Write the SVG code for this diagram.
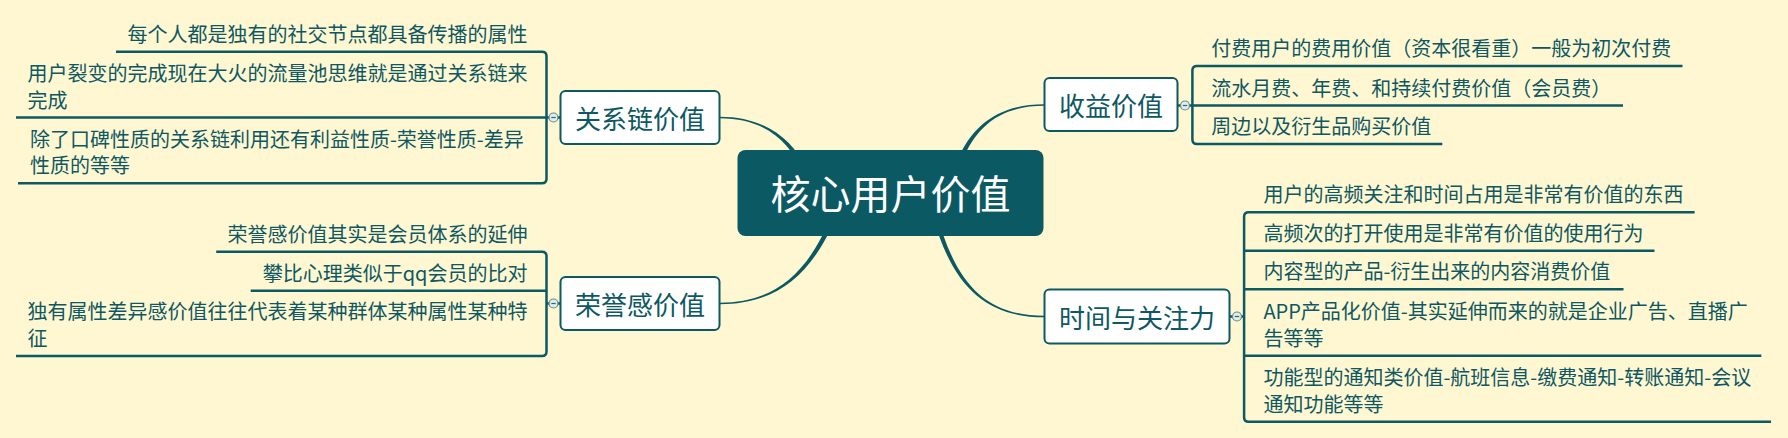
<svg xmlns="http://www.w3.org/2000/svg" width="1788" height="438" viewBox="0 0 1788 438">
<defs>
<style>
.bg{fill:#fef7d2}
.ln{fill:none;stroke:#0b5963;stroke-width:2.5;stroke-linecap:butt}
.curve{fill:#0b5963;stroke:none}
.box{fill:#ffffff;stroke:#0b5963;stroke-width:2}
.center{fill:#0b5963}
.t20{font-family:"Noto Sans CJK SC","Microsoft YaHei",sans-serif;font-size:20px;fill:#0d5862}
.t26{font-family:"Noto Sans CJK SC","Microsoft YaHei",sans-serif;font-size:26px;fill:#0d5862;text-anchor:middle}
.t40{font-family:"Noto Sans CJK SC","Microsoft YaHei",sans-serif;font-size:40px;fill:#ffffff;text-anchor:middle}
.end{text-anchor:end}
.fold circle{fill:#e2ebe4;stroke:#5f8d93;stroke-width:1.2}
.fold line{stroke:#2f6a71;stroke-width:1.2}
</style>
</defs>
<rect class="bg" x="0" y="0" width="1788" height="438"/>

<g id="connectors">
  <!-- tapered main curves -->
  <path class="curve" d="M719.5 118.3 C765 118.3 788 141 803 171 L807 169 C792 139 765 116.7 719.5 116.7 Z"/>
  <path class="curve" d="M720 304.3 C770 304.3 807 280.9 832 225.9 L828 224.1 C803 279.1 770 302.7 720 302.7 Z"/>
  <path class="curve" d="M1044.5 104.2 C1000 104.2 973 124.1 958 159.1 L962 160.9 C977 125.9 1000 105.8 1044.5 105.8 Z"/>
  <path class="curve" d="M1044.5 315.7 C990 315.7 957.1 289.4 937.1 214.4 L932.9 215.6 C952.9 290.6 990 317.3 1044.5 317.3 Z"/>

  <!-- left A bracket -->
  <path class="ln" d="M116 51.7 H542 Q546.5 51.7 546.5 56.2 V178.8 Q546.5 183.3 542 183.3 H18"/>
  <path class="ln" d="M16 117.5 H560.5"/>
  <!-- left B bracket -->
  <path class="ln" d="M216.2 251.7 H542 Q546.5 251.7 546.5 256.2 V351.5 Q546.5 356 542 356 H16"/>
  <path class="ln" d="M250.7 290.7 H546.5"/>
  <path class="ln" d="M546.5 303.5 H560.5"/>
  <!-- right A bracket -->
  <path class="ln" d="M1682.5 66 H1196.9 Q1192.4 66 1192.4 70.5 V139.5 Q1192.4 144 1196.9 144 H1442.3"/>
  <path class="ln" d="M1177.4 105.5 H1623"/>
  <!-- right B bracket -->
  <path class="ln" d="M1694.6 212.3 H1248.6 Q1244.1 212.3 1244.1 216.8 V417.2 Q1244.1 421.7 1248.6 421.7 H1771"/>
  <path class="ln" d="M1244.1 250.7 H1654.5"/>
  <path class="ln" d="M1244.1 289.3 H1623.5"/>
  <path class="ln" d="M1244.1 355.7 H1761.3"/>
  <path class="ln" d="M1229.5 316.5 H1244.1"/>

  <g class="fold">
    <circle cx="553.5" cy="117.5" r="4.5"/><line x1="551.3" y1="117.5" x2="555.7" y2="117.5"/>
    <circle cx="553.5" cy="303.5" r="4.5"/><line x1="551.3" y1="303.5" x2="555.7" y2="303.5"/>
    <circle cx="1185" cy="105.5" r="4.5"/><line x1="1182.8" y1="105.5" x2="1187.2" y2="105.5"/>
    <circle cx="1237" cy="316.5" r="4.5"/><line x1="1234.8" y1="316.5" x2="1239.2" y2="316.5"/>
  </g>
</g>

<g id="node-center">
  <rect class="center" x="737.5" y="150" width="306" height="86" rx="8"/>
  <text class="t40" x="890.6" y="208.7">核心用户价值</text>
</g>

<g id="node-guanxilian">
  <rect class="box" x="560.5" y="91" width="159" height="53" rx="5"/>
  <text class="t26" x="640" y="129">关系链价值</text>
</g>
<g id="node-rongyugan">
  <rect class="box" x="560.5" y="277" width="159" height="53" rx="5"/>
  <text class="t26" x="640" y="314.8">荣誉感价值</text>
</g>
<g id="node-shouyi">
  <rect class="box" x="1044.5" y="78" width="133" height="53" rx="5"/>
  <text class="t26" x="1111" y="115.5">收益价值</text>
</g>
<g id="node-shijian">
  <rect class="box" x="1044.5" y="289.5" width="185" height="54" rx="5"/>
  <text class="t26" x="1137" y="327.5">时间与关注力</text>
</g>

<g id="node-a1"><text class="t20 end" x="527.5" y="41.7">每个人都是独有的社交节点都具备传播的属性</text></g>
<g id="node-a2"><text class="t20" x="27.5" y="80.8">用户裂变的完成现在大火的流量池思维就是通过关系链来</text><text class="t20" x="27.5" y="107.5">完成</text></g>
<g id="node-a3"><text class="t20" x="29.9" y="146.6">除了口碑性质的关系链利用还有利益性质-荣誉性质-差异</text><text class="t20" x="29.9" y="173.3">性质的等等</text></g>

<g id="node-b1"><text class="t20 end" x="527.5" y="241.7">荣誉感价值其实是会员体系的延伸</text></g>
<g id="node-b2"><text class="t20 end" x="527.5" y="280.7">攀比心理类似于qq会员的比对</text></g>
<g id="node-b3"><text class="t20" x="27.5" y="319.3">独有属性差异感价值往往代表着某种群体某种属性某种特</text><text class="t20" x="27.5" y="346">征</text></g>

<g id="node-c1"><text class="t20" x="1211.2" y="56">付费用户的费用价值（资本很看重）一般为初次付费</text></g>
<g id="node-c2"><text class="t20" x="1211.2" y="95.5">流水月费、年费、和持续付费价值（会员费）</text></g>
<g id="node-c3"><text class="t20" x="1211.2" y="134">周边以及衍生品购买价值</text></g>

<g id="node-d1"><text class="t20" x="1263.4" y="202.3">用户的高频关注和时间占用是非常有价值的东西</text></g>
<g id="node-d2"><text class="t20" x="1263.4" y="240.7">高频次的打开使用是非常有价值的使用行为</text></g>
<g id="node-d3"><text class="t20" x="1263.4" y="279.3">内容型的产品-衍生出来的内容消费价值</text></g>
<g id="node-d4"><text class="t20" x="1263.4" y="319">APP产品化价值-其实延伸而来的就是企业广告、直播广</text><text class="t20" x="1263.4" y="345.7">告等等</text></g>
<g id="node-d5"><text class="t20" x="1263.4" y="385">功能型的通知类价值-航班信息-缴费通知-转账通知-会议</text><text class="t20" x="1263.4" y="411.7">通知功能等等</text></g>
</svg>
